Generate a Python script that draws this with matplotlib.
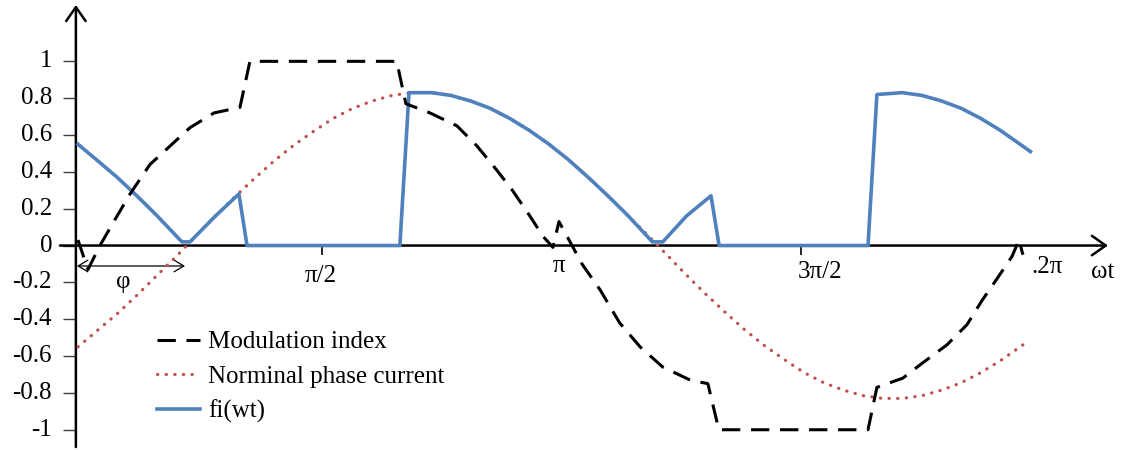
import matplotlib
matplotlib.use('Agg')
import matplotlib.pyplot as plt

# electrical angle in degrees for each series
mod_angle = [0, 3.8, 8.4, 14.1, 19.9, 27.5, 34.4, 42.8, 52.0, 61.9,
             65.7, 121.8, 125.3, 134.5, 144.8, 152.5, 160.0, 166.0, 172.7, 177.7,
             181.5, 183.8, 186.9, 192.6, 199.5, 207.0, 214.8, 223.5, 233.9, 240.7,
             244.9, 301.9, 305.3, 315.2, 322.5, 332.0, 339.7, 345.4, 351.2, 356.9,
             359.6, 361.1]
mod_index = [0.03, -0.13, 0.0, 0.14, 0.28, 0.44, 0.53, 0.64, 0.72, 0.75,
             1.0, 1.0, 0.77, 0.72, 0.65, 0.54, 0.41, 0.30, 0.16, 0.05,
             -0.01, 0.13, 0.05, -0.10, -0.24, -0.42, -0.55, -0.66, -0.73, -0.75,
             -1.0, -1.0, -0.77, -0.72, -0.64, -0.54, -0.43, -0.30, -0.18, -0.06,
             0.03, -0.05]

cur_angle = [0, 7.5, 15, 22.5, 30, 37.5, 45, 52.5, 60, 67.5, 75, 82.5,
             90, 97.5, 105, 112.5, 120, 127.5, 135, 142.5, 150, 157.5, 165, 172.5,
             180, 187.5, 195, 202.5, 210, 217.5, 225, 232.5, 240, 247.5, 255, 262.5,
             270, 277.5, 285, 292.5, 300, 307.5, 315, 322.5, 330, 337.5, 345, 352.5,
             360, 362]
cur_value = [-0.55, -0.46, -0.37, -0.27, -0.165, -0.06, 0.05, 0.16, 0.265, 0.365, 0.46, 0.545,
             0.62, 0.69, 0.745, 0.785, 0.815, 0.83, 0.83, 0.815, 0.785, 0.745, 0.69, 0.625,
             0.55, 0.465, 0.37, 0.27, 0.165, 0.06, -0.05, -0.16, -0.265, -0.365, -0.46, -0.545,
             -0.62, -0.69, -0.745, -0.785, -0.815, -0.83, -0.83, -0.815, -0.785, -0.745, -0.69, -0.625,
             -0.55, -0.53]

fi_angle = [0, 8.4, 15, 22.5, 30, 39.7, 42.8, 52.5, 61.5, 64.6, 123.0,
            126.5, 135, 142.5, 150, 157.5, 165, 172.5, 180, 187.5, 195, 202.5, 210, 219.5,
            223.5, 232.5, 241.9, 245.0, 301.9,
            305.3, 315, 322.5, 330, 337.5, 345, 352.5, 360, 364]
fi_value = [0.55, 0.45, 0.37, 0.27, 0.165, 0.02, 0.02, 0.16, 0.28, 0.0, 0.0,
            0.83, 0.83, 0.815, 0.785, 0.745, 0.69, 0.625, 0.55, 0.465, 0.37, 0.27, 0.165, 0.02,
            0.02, 0.16, 0.27, 0.0, 0.0,
            0.82, 0.83, 0.815, 0.785, 0.745, 0.69, 0.625, 0.55, 0.51]

y_ticks = [1, 0.8, 0.6, 0.4, 0.2, 0, -0.2, -0.4, -0.6, -0.8, -1]
y_tick_labels = ['1', '0.8', '0.6', '0.4', '0.2', '0', '-0.2', '-0.4', '-0.6', '-0.8', '-1']

x_labels = ['\u03c0/2', '\u03c0', '3\u03c0/2', '.2\u03c0', '\u03c9t']
x_label_pos = [92.9, 183.8, 283.5, 370.3, 391.7]
x_label_base = [-0.198, -0.144, -0.176, -0.149, -0.176]
x_tick_pos = [93.2, 276.3]


def main():
    plt.rcParams['font.family'] = ['Liberation Serif', 'DejaVu Serif']
    fs = 18

    fig = plt.figure(figsize=(11.31, 4.5), dpi=100)
    ax = fig.add_axes([0, 0, 1, 1])
    ax.set_xlim(-29.8, 402.4)
    ax.set_ylim(-1.110, 1.333)
    ax.axis('off')

    # axes with arrow heads
    arrow = dict(arrowstyle='->,head_length=0.5,head_width=0.35', lw=1.8,
                 color='black', mutation_scale=20, shrinkA=0, shrinkB=0)
    ax.annotate('', xy=(393.6, 0), xytext=(-6.9, 0), arrowprops=arrow, zorder=2)
    ax.annotate('', xy=(-0.8, 1.306), xytext=(-0.8, -1.094), arrowprops=arrow, zorder=2)

    # y ticks and labels
    ax.hlines(y_ticks, -5.7, -0.8, color='#404040', lw=1, zorder=1)
    for v, lab in zip(y_ticks, y_tick_labels):
        ax.text(-9.9, v, lab, ha='right', va='center', fontsize=fs)

    # angle marks on the horizontal axis
    ax.vlines(x_tick_pos, -0.054, 0, color='black', lw=1.2, zorder=2)
    for x, y, lab in zip(x_label_pos, x_label_base, x_labels):
        ax.text(x, y, lab, ha='center', va='baseline', fontsize=fs)

    # phase shift marker
    ax.annotate('', xy=(40.9, -0.111), xytext=(-0.4, -0.111),
                arrowprops=dict(arrowstyle='<->,head_length=0.5,head_width=0.3', lw=0.9,
                                color='black', mutation_scale=14, shrinkA=0, shrinkB=0))
    ax.text(17.2, -0.2, '\u03c6', ha='center', va='center', fontsize=fs)

    ax.plot(mod_angle, mod_index, color='black', lw=2.2, linestyle=(0, (6, 3.5)),
            label='Modulation index', zorder=5)
    ax.plot(cur_angle, cur_value, color='#C0504D', lw=2.3, linestyle=(0, (0.1, 2.6)),
            dash_capstyle='round', label='Norminal phase current', zorder=3)
    ax.plot(fi_angle, fi_value, color='#4F81BD', lw=2.6, label='fi(wt)', zorder=4)

    ax.legend(loc='upper left', bbox_to_anchor=(157 / 1131, 1 - 331 / 450),
              bbox_transform=fig.transFigure, frameon=False, fontsize=fs,
              handlelength=1.72, handletextpad=0.32, labelspacing=0.47,
              borderpad=0, borderaxespad=0)

    fig.savefig('out.png', dpi=100)


if __name__ == "__main__":
    main()
